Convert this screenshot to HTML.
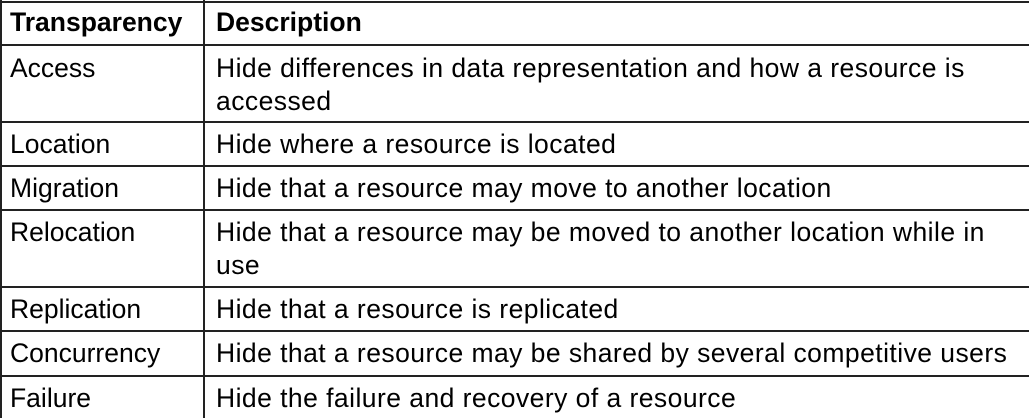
<!DOCTYPE html>
<html><head><style>
body{margin:0;width:1029px;height:418px;background:#fff;overflow:hidden;position:relative;font-family:"Liberation Sans",Arial,sans-serif;font-size:26.5px;color:#000}
.h{position:absolute;left:0;width:1029px;height:2px;background:#222}
.v{position:absolute;top:0;width:2px;height:418px;background:#222}
.t{position:absolute;line-height:33px;white-space:nowrap}
.d{letter-spacing:0.45px}
b{font-weight:bold}
</style></head><body>
<div class="v" style="left:0"></div>
<div class="v" style="left:203px"></div>
<div class="h" style="top:1px"></div>
<div class="h" style="top:44px"></div>
<div class="h" style="top:121px"></div>
<div class="h" style="top:165px"></div>
<div class="h" style="top:209px"></div>
<div class="h" style="top:286px"></div>
<div class="h" style="top:330px"></div>
<div class="h" style="top:375px"></div>

<div class="t" style="left:10px;top:6px"><b>Transparency</b></div>
<div class="t" style="left:216px;top:6px"><b>Description</b></div>

<div class="t" style="left:10px;top:52px">Access</div>
<div class="t d" style="left:216px;top:52px">Hide differences in data representation and how a resource is<br>accessed</div>

<div class="t" style="left:10px;top:128px">Location</div>
<div class="t d" style="left:216px;top:128px">Hide where a resource is located</div>

<div class="t" style="left:10px;top:172px">Migration</div>
<div class="t d" style="left:216px;top:172px">Hide that a resource may move to another location</div>

<div class="t" style="left:10px;top:216px">Relocation</div>
<div class="t d" style="left:216px;top:216px">Hide that a resource may be moved to another location while in<br>use</div>

<div class="t" style="left:10px;top:293px">Replication</div>
<div class="t d" style="left:216px;top:293px">Hide that a resource is replicated</div>

<div class="t" style="left:10px;top:337px">Concurrency</div>
<div class="t d" style="left:216px;top:337px">Hide that a resource may be shared by several competitive users</div>

<div class="t" style="left:10px;top:382px">Failure</div>
<div class="t d" style="left:216px;top:382px">Hide the failure and recovery of a resource</div>
</body></html>
